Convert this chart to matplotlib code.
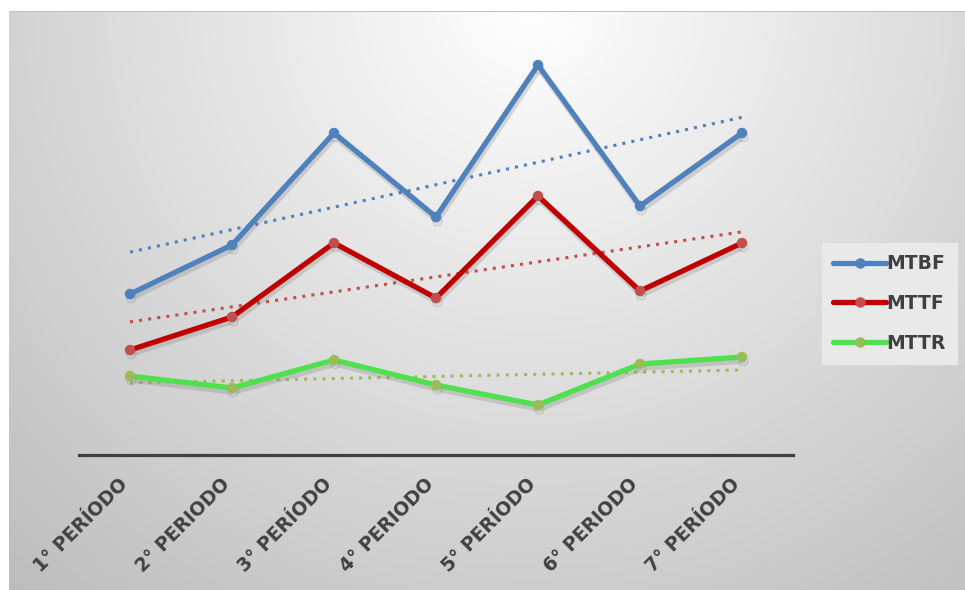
import numpy as np
import matplotlib.pyplot as plt
import matplotlib.patheffects as pe
import matplotlib.transforms as mtransforms

periodos = ["1° PERÍODO", "2° PERIODO", "3° PERÍODO", "4° PERIODO",
            "5° PERÍODO", "6° PERIODO", "7° PERÍODO"]
mtbf = [161, 210, 322, 238, 390, 249, 322]
mttf = [105, 138, 212, 157, 259, 164, 212]
mttr = [79, 67, 95, 70, 50, 91, 98]

fig = plt.figure(figsize=(9.65, 5.9), dpi=100)
fig.patch.set_facecolor("white")

# fundo com gradiente radial
bg = fig.add_axes([9 / 965, 0, 956 / 965, 579 / 590])
bg.axis("off")
yy, xx = np.mgrid[0:579, 0:956]
dist = np.sqrt((xx - 520) ** 2 + (yy + 10) ** 2)
val = np.clip(255 - 0.085 * dist, 180, 255) / 255
bg.imshow(np.dstack([val, val, val]), aspect="auto", extent=[0, 1, 0, 1])
bg.plot([0, 1], [1, 1], color="#c4c4c4", lw=1.5, transform=bg.transAxes)

ax = fig.add_axes([79 / 965, 135 / 590, 714 / 965, 425 / 590])
ax.set_facecolor("none")
x = np.arange(len(periodos))

sombra = [pe.SimpleLineShadow(offset=(1, -3), shadow_color="#666666", alpha=0.22), pe.Normal()]

series = [
    ("MTBF", mtbf, "#4f81bd", "#4f81bd", "#4f81bd"),
    ("MTTF", mttf, "#c00000", "#c0504d", "#c0504d"),
    ("MTTR", mttr, "#4fe04f", "#9bbb59", "#9bbb59"),
]
for nome, vals, cor, cor_marc, cor_tend in series:
    a, b = np.polyfit(x, vals, 1)
    ax.plot(x, a * x + b, color=cor_tend, lw=2.2, ls=(0, (1, 2)), zorder=2)
for nome, vals, cor, cor_marc, cor_tend in series:
    ax.plot(x, vals, color=cor, lw=3.8, marker="o", markersize=6.5,
            markerfacecolor=cor_marc, markeredgecolor=cor_marc,
            solid_capstyle="round", label=nome, path_effects=sombra, zorder=3)

ax.set_xlim(-0.5, 6.5)
ax.set_ylim(0, 425)
for s in ["top", "right", "left"]:
    ax.spines[s].set_visible(False)
ax.spines["bottom"].set_color("#404040")
ax.spines["bottom"].set_linewidth(2.3)
ax.set_yticks([])
ax.set_xticks(x)
ax.set_xticklabels(periodos, rotation=45, ha="right", va="center",
                   rotation_mode="anchor", fontsize=13.5, fontweight="bold",
                   color="#404040")
ax.tick_params(axis="x", length=0, pad=19)
desloc = mtransforms.ScaledTranslation(-5 / 100, 0, fig.dpi_scale_trans)
for lab in ax.get_xticklabels():
    lab.set_transform(lab.get_transform() + desloc)

leg = ax.legend(loc="upper left", bbox_to_anchor=(822 / 965, 1 - 243 / 590),
                bbox_transform=fig.transFigure, frameon=True, fancybox=False,
                prop={"weight": "bold", "size": 13.5}, handlelength=2.8,
                handletextpad=0.05, labelspacing=1.1, borderpad=0.6,
                borderaxespad=0)
leg.get_frame().set_facecolor("#e9e9e9")
leg.get_frame().set_edgecolor("#e9e9e9")
leg.get_frame().set_alpha(1)
for t in leg.get_texts():
    t.set_color("#404040")
for h in leg.get_lines():
    h.set_path_effects([])

fig.savefig("out.png", dpi=100)
